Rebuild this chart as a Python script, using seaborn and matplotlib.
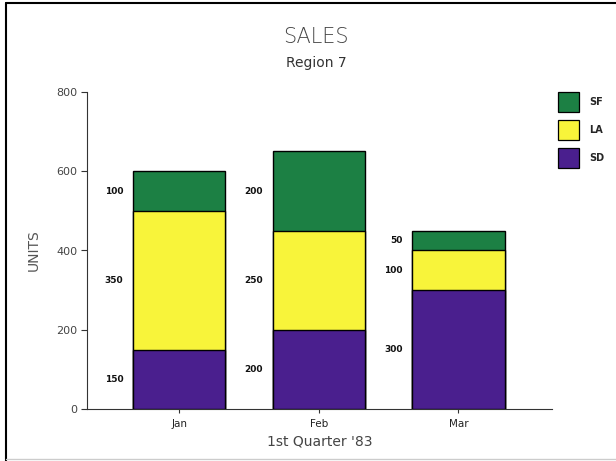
import matplotlib
matplotlib.use("Agg")
import matplotlib.pyplot as plt
import seaborn as sns
import pandas as pd
from matplotlib.lines import Line2D
from matplotlib.patches import Patch

months = ["Jan", "Feb", "Mar"]
series = ["SD", "LA", "SF"]
sd_units = [150, 200, 300]
la_units = [350, 250, 100]
sf_units = [100, 200, 50]
colors = {"SD": "#4a1f8e", "LA": "#f8f43a", "SF": "#1c8044"}
y_ticks = [0, 200, 400, 600, 800]

df = pd.DataFrame({"month": months, "SD": sd_units, "LA": la_units, "SF": sf_units})

sns.set_theme(style="white")
plt.rcParams["font.family"] = ["DejaVu Sans"]

fig = plt.figure(figsize=(6.16, 4.61), dpi=100)
ax = fig.add_axes([87 / 616, 1 - 409 / 461, (552 - 87) / 616, (409 - 92) / 461])

bar_w = 0.66
bottoms = [0, 0, 0]
for name in series:
    vals = df[name].tolist()
    # each layer is drawn as the cumulative total; lower layers are raised above it later
    tops = [b + v for b, v in zip(bottoms, vals)]
    sns.barplot(x=df["month"], y=tops, color=colors[name], width=bar_w,
                edgecolor="black", linewidth=1.0, ax=ax, saturation=1)
    for i, (b, v) in enumerate(zip(bottoms, vals)):
        ax.text(i - bar_w / 2 - 0.07, b + v / 2, f"{v}", ha="right", va="center",
                fontsize=6.5, fontweight="bold", color="#111111")
    bottoms = tops

# lower layers in front so each segment shows
n = len(months)
for k, p in enumerate(ax.patches):
    layer = k // n
    p.set_zorder(3 + (len(series) - layer))

ax.set_xlim(-0.66, 2.67)
ax.set_ylim(0, 800)
ax.set_yticks(y_ticks)
ax.set_yticklabels([str(t) for t in y_ticks], fontsize=8, color="#444444")
ax.tick_params(axis="y", direction="out", length=4, width=0.8, color="#333333", pad=3, left=True)
ax.tick_params(axis="x", direction="out", length=3, width=0.8, color="#333333", pad=4,
               labelsize=7.5, labelcolor="#222222", bottom=True)
for side in ["top", "right"]:
    ax.spines[side].set_visible(False)
for side in ["left", "bottom"]:
    ax.spines[side].set_color("#333333")
    ax.spines[side].set_linewidth(0.8)

ax.set_ylabel("UNITS", fontsize=10, color="#555555", labelpad=11)
ax.set_xlabel("1st Quarter '83", fontsize=10, color="#444444", labelpad=4)

fig.text(0.513, 1 - 37 / 461, "SALES", ha="center", va="center", fontsize=15,
         color="#444444", fontweight="light")
fig.text(0.513, 1 - 63 / 461, "Region 7", ha="center", va="center", fontsize=10,
         color="#333333")

handles = [Patch(facecolor=colors[s], edgecolor="black", linewidth=0.9) for s in ["SF", "LA", "SD"]]
fig.legend(handles, ["SF", "LA", "SD"], loc="upper left", bbox_to_anchor=(0.893, 1 - 84 / 461),
           frameon=False, handlelength=2.2, handleheight=2.9, labelspacing=0.75,
           prop={"size": 7, "weight": "bold"}, handletextpad=1.0, borderpad=0.3)

# outer frame
fig.add_artist(Line2D([6 / 616, 1.0], [1 - 3 / 461, 1 - 3 / 461], color="black", linewidth=1.5,
                      transform=fig.transFigure))
fig.add_artist(Line2D([6 / 616, 6 / 616], [1 - 3 / 461, 0], color="black", linewidth=1.5,
                      transform=fig.transFigure))
fig.add_artist(Line2D([6 / 616, 1.0], [1 - 459 / 461, 1 - 459 / 461], color="#cccccc", linewidth=1.0,
                      transform=fig.transFigure))

fig.savefig("out.png", dpi=100)
